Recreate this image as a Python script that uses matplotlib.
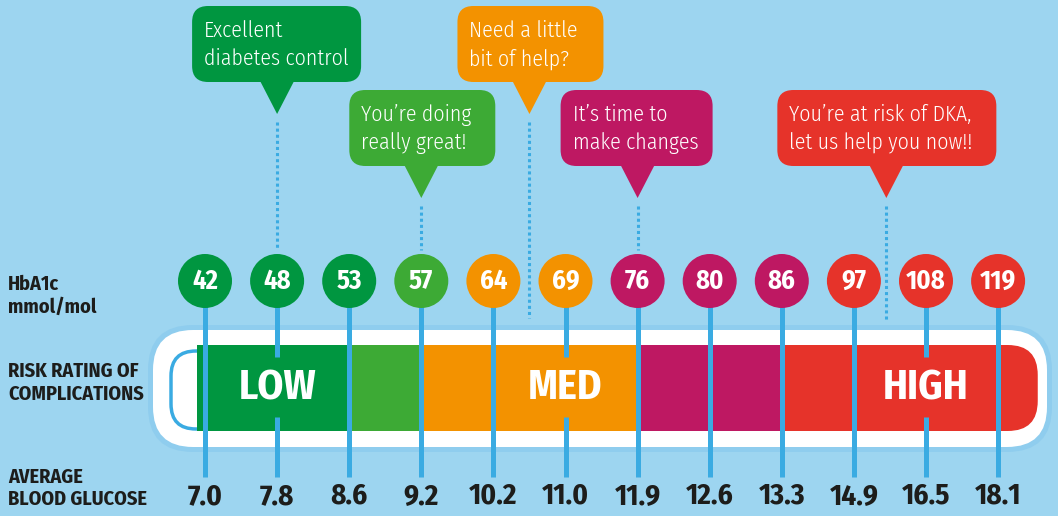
import matplotlib
matplotlib.use("Agg")
import matplotlib.pyplot as plt
from matplotlib.patches import Circle, FancyBboxPatch, Rectangle, Polygon

# data
hba1c    = [42, 48, 53, 57, 64, 69, 76, 80, 86, 97, 108, 119]
glucose  = ["7.0", "7.8", "8.6", "9.2", "10.2", "11.0", "11.9", "12.6", "13.3", "14.9", "16.5", "18.1"]
risk     = ["dg", "dg", "dg", "lg", "or", "or", "mg", "mg", "mg", "rd", "rd", "rd"]

# risk band boundaries (in marker index units) and colours
band_edges  = [-0.11, 2.0, 3.0, 6.0, 8.03, 11.55]
band_colors = ["dg", "lg", "or", "mg", "rd"]

level_names = ["LOW", "MED", "HIGH"]
level_pos   = [1, 5, 10]

messages = ["Excellent\ndiabetes control", "You\u2019re doing\nreally great!",
            "Need a little\nbit of help?", "It\u2019s time to\nmake changes",
            "You\u2019re at risk of DKA,\nlet us help you now!!"]
msg_pos    = [1, 3, 4.5, 6, 9.45]
msg_colors = ["dg", "lg", "or", "mg", "rd"]
msg_row    = [0, 1, 0, 1, 1]
msg_left   = [-85, -72, -72, -77, -109]
msg_width  = [169, 146, 146, 152, 219]
msg_stem   = [250, 250, 318, 250, 320]

C = {"dg": "#009640", "lg": "#3daa35", "or": "#f39200", "mg": "#be1862", "rd": "#e6332a"}
BG = "#9dd5f0"
LINE = "#3aabe2"
DARK = "#1d1d1b"

X0, DX = 205, 72.1
CY, R = 281, 27

def xpos(i):
    return X0 + i * DX

cond = ["Fira Sans Condensed", "DejaVu Sans"]

fig = plt.figure(figsize=(10.58, 5.16), dpi=100, facecolor=BG)
ax = fig.add_axes([0, 0, 1, 1])
ax.set_xlim(0, 1058)
ax.set_ylim(516, 0)
ax.axis("off")
ax.set_facecolor(BG)

# bar frame
ax.add_patch(FancyBboxPatch((148, 325), 904, 127, boxstyle="round,pad=0,rounding_size=45",
                            fc="#8fcdee", ec="none", zorder=1))
ax.add_patch(FancyBboxPatch((153, 330), 894, 117, boxstyle="round,pad=0,rounding_size=40",
                            fc="white", ec="none", zorder=2))
ax.add_patch(FancyBboxPatch((171, 351), 80, 78, boxstyle="round,pad=0,rounding_size=25",
                            fc="white", ec=LINE, lw=2.5, zorder=3))

# colour bands
bx = [xpos(e) for e in band_edges]
ax.add_patch(FancyBboxPatch((bx[-2] - 60, 345), bx[-1] - bx[-2] + 60, 86,
                            boxstyle="round,pad=0,rounding_size=30",
                            fc=C[band_colors[-1]], ec="none", zorder=4))
for k in range(len(band_colors) - 1):
    ax.add_patch(Rectangle((bx[k], 345), bx[k + 1] - bx[k], 86,
                           fc=C[band_colors[k]], ec="none", zorder=5))

# vertical connectors
for i in range(len(hba1c)):
    x = xpos(i)
    if i in level_pos:
        ax.plot([x, x], [CY, 357], color=LINE, lw=3.6, solid_capstyle="butt", zorder=6)
        ax.plot([x, x], [417, 477], color=LINE, lw=3.6, solid_capstyle="butt", zorder=6)
    else:
        ax.plot([x, x], [CY, 477], color=LINE, lw=3.6, solid_capstyle="butt", zorder=6)

# level labels
for name, p in zip(level_names, level_pos):
    ax.text(xpos(p), 388, name, color="white", fontsize=30, fontweight="bold",
            family=cond, ha="center", va="center", zorder=7)

# HbA1c circles
for i, v in enumerate(hba1c):
    ax.add_patch(Circle((xpos(i), CY), R, fc=C[risk[i]], ec="none", zorder=8))
    ax.text(xpos(i), CY, str(v), color="white", fontsize=19, fontweight="bold",
            family=cond, ha="center", va="center", zorder=9)

# glucose values
for i, g in enumerate(glucose):
    ax.text(xpos(i), 496, g, color=DARK, fontsize=21, fontweight="bold",
            family=cond, ha="center", va="center")

# left labels
for y, t in [(284, "HbA1c"), (307, "mmol/mol"), (371, "RISK RATING OF"),
             (394, "COMPLICATIONS"), (477, "AVERAGE"), (499, "BLOOD GLUCOSE")]:
    ax.text(8, y, t, color=DARK, fontsize=14.5, fontweight="bold", family=cond,
            ha="left", va="center")

# speech bubbles
for msg, p, col, row, left, w, stem in zip(messages, msg_pos, msg_colors, msg_row,
                                           msg_left, msg_width, msg_stem):
    x = xpos(p)
    top = 6 if row == 0 else 90
    h = 76
    ax.add_patch(FancyBboxPatch((x + left, top), w, h, boxstyle="round,pad=0,rounding_size=16",
                                fc=C[col], ec="none", zorder=10))
    tip = top + h + 32
    ax.add_patch(Polygon([(x - 17, top + h - 1), (x + 17, top + h - 1), (x, tip)],
                         closed=True, fc=C[col], ec="none", zorder=10))
    ax.text(x + left + 12, top + h / 2 + 1, msg, color="white", fontsize=15.7, fontweight=300,
            family=cond, ha="left", va="center", linespacing=1.38, zorder=11)
    ax.plot([x, x], [tip + 8, stem], color=LINE, lw=2.2, linestyle=(0, (1.0, 1.0)),
            solid_capstyle="butt", zorder=6)

fig.savefig("out.png", dpi=100, facecolor=BG)
